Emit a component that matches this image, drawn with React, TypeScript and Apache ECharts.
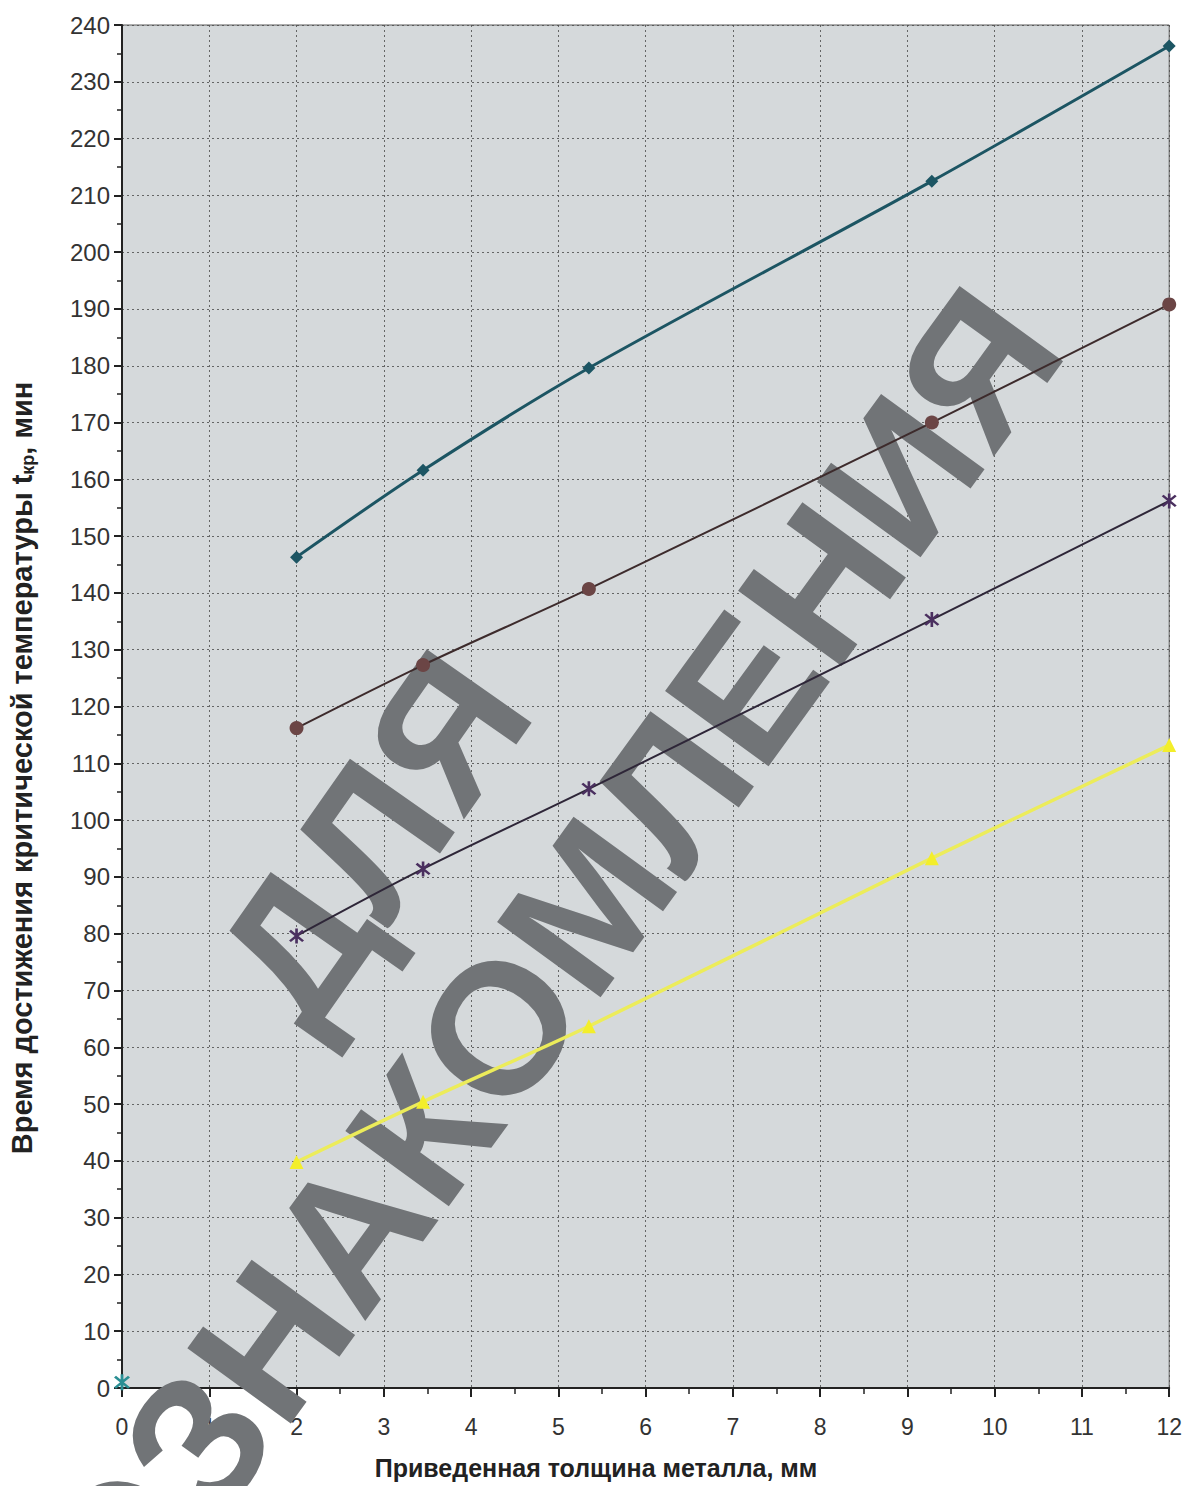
import React, { useEffect, useRef } from "react";
import * as echarts from "echarts";

const xValues = [2, 3.45, 5.35, 9.28, 12];
const seriesTeal = [146.3, 161.6, 179.6, 212.5, 236.3];
const seriesBrown = [116.2, 127.3, 140.7, 170.0, 190.8];
const seriesPurple = [79.6, 91.4, 105.5, 135.3, 156.2];
const seriesYellow = [39.8, 50.4, 63.7, 93.3, 113.2];
const originPoint = [[0, 1]];

const xTitle = "Приведенная толщина металла, мм";
const yTitleRich = "Время достижения критической температуры t{sub|кр}, мин";
const watermark1 = "ДЛЯ";
const watermark2 = "ОЗНАКОМЛЕНИЯ";

const asterisk =
  "path://M-1,-7 L1,-7 L1,7 L-1,7 Z M4.24,5.66 L-5.66,-4.24 L-4.24,-5.66 L5.66,4.24 Z M-4.24,5.66 L-5.66,4.24 L4.24,-5.66 L5.66,-4.24 Z";

const pair = (ys: number[]) => ys.map((y, i) => [xValues[i], y]);

export default function App() {
  const ref = useRef<HTMLDivElement>(null);
  useEffect(() => {
    if (!ref.current) return;
    const chart = echarts.init(ref.current, undefined, { renderer: "svg" });
    const font = "'Liberation Sans', Arial, sans-serif";
    const wmStyle = {
      fontSize: 186,
      fontWeight: "bold",
      fontFamily: font,
      fill: "#717477",
      textAlign: "center",
      textVerticalAlign: "middle",
      align: "center",
      verticalAlign: "middle",
    };
    chart.setOption({
      animation: false,
      backgroundColor: "#ffffff",
      grid: {
        left: 122,
        right: 15,
        top: 25,
        bottom: 98,
        show: true,
        backgroundColor: "#d5d9db",
        borderColor: "#5a5a5a",
        borderWidth: 1,
      },
      xAxis: {
        type: "value",
        min: 0,
        max: 12,
        interval: 1,
        axisLine: { show: true, onZero: false, lineStyle: { color: "#222", width: 2 } },
        axisTick: { show: true, length: 9, lineStyle: { color: "#222", width: 2 } },
        minorTick: { show: true, splitNumber: 2, length: 6, lineStyle: { color: "#222", width: 1.5 } },
        axisLabel: { fontSize: 23, color: "#333", margin: 27, fontFamily: font },
        splitLine: { show: true, lineStyle: { color: "#505050", type: [2, 3], width: 1, opacity: 0.85 } },
      },
      yAxis: {
        type: "value",
        min: 0,
        max: 240,
        interval: 10,
        axisLine: { show: true, onZero: false, lineStyle: { color: "#222", width: 2 } },
        axisTick: { show: true, length: 8, lineStyle: { color: "#222", width: 2 } },
        minorTick: { show: true, splitNumber: 2, length: 5, lineStyle: { color: "#222", width: 1.5 } },
        axisLabel: { fontSize: 24, color: "#333", margin: 12, fontFamily: font },
        splitLine: { show: true, lineStyle: { color: "#505050", type: [2, 3], width: 1, opacity: 0.85 } },
      },
      graphic: [
        {
          type: "text",
          x: 372,
          y: 838,
          rotation: (55 * Math.PI) / 180,
          z: 1,
          silent: true,
          style: { text: watermark1, ...wmStyle },
        },
        {
          type: "text",
          x: 548,
          y: 960,
          rotation: (54 * Math.PI) / 180,
          z: 1,
          silent: true,
          style: { text: watermark2, ...wmStyle },
        },
        {
          type: "text",
          x: 22,
          y: 768,
          rotation: Math.PI / 2,
          z: 5,
          style: {
            text: yTitleRich,
            fontSize: 29,
            fontWeight: "bold",
            fontFamily: font,
            fill: "#222",
            textAlign: "center",
            textVerticalAlign: "middle",
            align: "center",
            verticalAlign: "middle",
            rich: {
              sub: { fontSize: 18, fontWeight: "bold", fontFamily: font, fill: "#222", padding: [12, 0, 0, 0] },
            },
          },
        },
        {
          type: "text",
          x: 596,
          y: 1468,
          z: 5,
          style: {
            text: xTitle,
            fontSize: 25,
            fontWeight: "bold",
            fontFamily: font,
            fill: "#222",
            textAlign: "center",
            textVerticalAlign: "middle",
            align: "center",
            verticalAlign: "middle",
          },
        },
      ],
      series: [
        {
          type: "line",
          name: "teal",
          data: pair(seriesTeal),
          smooth: 0.3,
          symbol: "diamond",
          symbolSize: 13,
          lineStyle: { color: "#1c5563", width: 3 },
          itemStyle: { color: "#1c5563" },
          z: 3,
        },
        {
          type: "line",
          name: "brown",
          data: pair(seriesBrown),
          smooth: 0.3,
          symbol: "circle",
          symbolSize: 14,
          lineStyle: { color: "#3d2b2c", width: 2 },
          itemStyle: { color: "#6b4545" },
          z: 3,
        },
        {
          type: "line",
          name: "purple",
          data: pair(seriesPurple),
          smooth: 0.3,
          symbol: asterisk,
          symbolSize: 15,
          lineStyle: { color: "#2e2638", width: 2 },
          itemStyle: { color: "#4a2f5f" },
          z: 3,
        },
        {
          type: "line",
          name: "yellow",
          data: pair(seriesYellow),
          smooth: 0.3,
          symbol: "triangle",
          symbolSize: 14,
          lineStyle: { color: "#ecec5a", width: 3.5 },
          itemStyle: { color: "#f3ee2a" },
          z: 3,
        },
        {
          type: "line",
          name: "origin",
          data: originPoint,
          symbol: asterisk,
          symbolSize: 16,
          itemStyle: { color: "#2a8f94" },
          z: 4,
        },
      ],
    });
    return () => chart.dispose();
  }, []);
  return (
    <div
      ref={ref}
      style={{ position: "absolute", left: 0, top: 0, width: 1185, height: 1486 }}
    />
  );
}
